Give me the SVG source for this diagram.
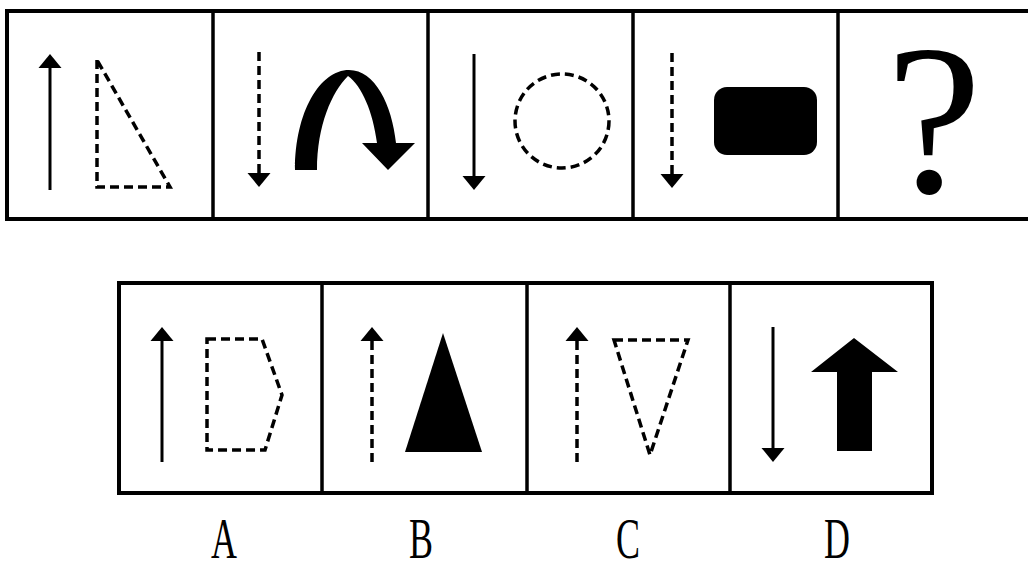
<svg xmlns="http://www.w3.org/2000/svg" width="1028" height="563" viewBox="0 0 1028 563">
<style>
.frame{fill:none;stroke:#000;stroke-width:4}
.div{stroke:#000;stroke-width:3.5}
.ln{stroke:#000;stroke-width:3;fill:none}
.dash{stroke:#000;stroke-width:3.5;fill:none;stroke-dasharray:9 5}
.solid{fill:#000;stroke:none}
.lbl{font-family:"Liberation Serif","Times New Roman",serif;font-size:58px;fill:#000}
.q{font-family:"Liberation Serif","Times New Roman",serif;font-size:215px;fill:#000}
</style>
<defs>
<marker id="ah" markerUnits="userSpaceOnUse" markerWidth="16" markerHeight="24" viewBox="0 -12 16 24" refX="0" refY="0" orient="auto">
<path d="M0,-11.5 L14,0 L0,11.5 Z" fill="#000"/>
</marker>
</defs>
<rect width="1028" height="563" fill="#fff"/>
<g id="frames">
<rect class="frame" x="7" y="11" width="1040" height="208"/>
<line class="div" x1="213" y1="11" x2="213" y2="219"/>
<line class="div" x1="428" y1="11" x2="428" y2="219"/>
<line class="div" x1="633" y1="11" x2="633" y2="219"/>
<line class="div" x1="838" y1="11" x2="838" y2="219"/>
<rect class="frame" x="119" y="283" width="813" height="210"/>
<line class="div" x1="322" y1="283" x2="322" y2="493"/>
<line class="div" x1="527" y1="283" x2="527" y2="493"/>
<line class="div" x1="730" y1="283" x2="730" y2="493"/>
</g>
<g id="connectors">
<line class="ln" x1="50" y1="190" x2="50" y2="68" marker-end="url(#ah)"/>
<line class="dash" x1="259" y1="52" x2="259" y2="173" marker-end="url(#ah)"/>
<line class="ln" x1="474" y1="54" x2="474" y2="176" marker-end="url(#ah)"/>
<line class="dash" x1="672" y1="53" x2="672" y2="174" marker-end="url(#ah)"/>
<line class="ln" x1="162" y1="462" x2="162" y2="341" marker-end="url(#ah)"/>
<line class="dash" x1="372" y1="462" x2="372" y2="341" marker-end="url(#ah)"/>
<line class="dash" x1="577" y1="462" x2="577" y2="341" marker-end="url(#ah)"/>
<line class="ln" x1="773" y1="327" x2="773" y2="448" marker-end="url(#ah)"/>
</g>
<g id="p1"><polygon class="dash" points="97,60 97,187 170,187"/></g>
<g id="p2"><path class="solid" d="M295,170 C295,112 320,70 349,70 C375,70 392,105 396,143 L415,143 L388,170 L362,143 L377,143 C373,112 362,86 348,76 C332,92 317,125 317,170 Z"/></g>
<g id="p3"><circle class="dash" cx="562" cy="121" r="47"/></g>
<g id="p4"><rect class="solid" x="714" y="87" width="103" height="68" rx="13"/></g>
<g id="p5"><text class="q" x="934" y="192" text-anchor="middle">?</text></g>
<g id="optA"><polygon class="dash" points="207,339 262,339 282,395 265,450 207,450"/></g>
<g id="optB"><polygon class="solid" points="443,333 482,452 405,452"/></g>
<g id="optC"><polygon class="dash" points="614,340 688,340 650,455"/></g>
<g id="optD"><polygon class="solid" points="854,338 898,372 872,372 872,451 837,451 837,372 811,372"/></g>
<g id="labels">
<text class="lbl" text-anchor="middle" transform="translate(224,558) scale(0.62,1)">A</text>
<text class="lbl" text-anchor="middle" transform="translate(421,558) scale(0.62,1)">B</text>
<text class="lbl" text-anchor="middle" transform="translate(628,558) scale(0.62,1)">C</text>
<text class="lbl" text-anchor="middle" transform="translate(837,558) scale(0.62,1)">D</text>
</g>
</svg>
